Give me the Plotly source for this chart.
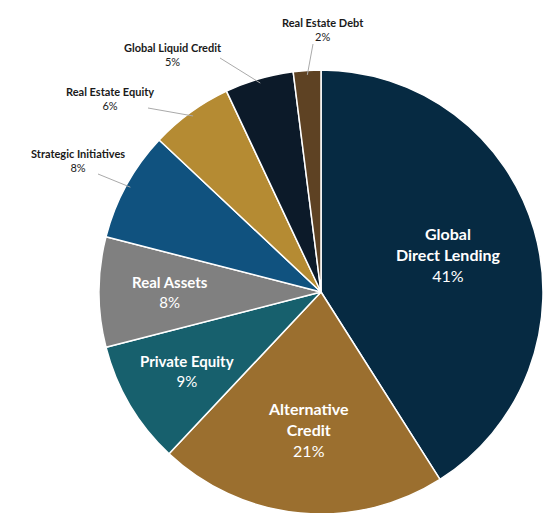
import plotly.graph_objects as go
import math

labels = ["Global Direct Lending", "Alternative Credit", "Private Equity", "Real Assets",
          "Strategic Initiatives", "Real Estate Equity", "Global Liquid Credit", "Real Estate Debt"]
display = ["Global<br>Direct Lending", "Alternative<br>Credit", "Private Equity", "Real Assets",
           "Strategic Initiatives", "Real Estate Equity", "Global Liquid Credit", "Real Estate Debt"]
values = [41, 21, 9, 8, 8, 6, 5, 2]
colors = ["#062a42", "#9b6f2f", "#17606d", "#808080", "#10527f", "#b58b33", "#0c1a29", "#5e4223"]

W, H = 551, 513
cx, cy, R = 313, 284, 222

fig = go.Figure(go.Pie(
    labels=labels, values=values, sort=False, direction="clockwise", rotation=0,
    marker=dict(colors=colors, line=dict(color="white", width=1.5)),
    textinfo="none", hoverinfo="label+percent", showlegend=False,
    domain=dict(x=[(cx - R) / W, (cx + R) / W], y=[(H - cy - R) / H, (H - cy + R) / H]),
))

def px2paper(x, y):
    return x / W, 1 - y / H

total = sum(values)
cum = 0
inside_r = [0.6, 0.62, 0.7, 0.68]
outside_pos = [(70, 152), (102, 91), (165, 46), (315, 21)]
line_end = [(90, 166), (140, 100), (212, 50), (305, 36)]
anns, shapes = [], []
for i, v in enumerate(values):
    mid = (cum + v / 2) / total * 2 * math.pi
    cum += v
    s, c = math.sin(mid), math.cos(mid)
    if i < 4:
        f = inside_r[i]
        x, y = px2paper(cx + R * f * s, cy - R * f * c)
        size = 16 if i < 2 else 15
        anns.append(dict(x=x, y=y, xref="paper", yref="paper", showarrow=False,
                         xanchor="center", yanchor="middle",
                         text=f"<b>{display[i]}</b><br>{v}%", align="center",
                         font=dict(family="Lato", size=size, color="white")))
    else:
        k = i - 4
        lx, ly = outside_pos[k]
        x, y = px2paper(lx, ly)
        anns.append(dict(x=x, y=y, xref="paper", yref="paper", showarrow=False,
                         xanchor="center", yanchor="middle",
                         text=f"<b>{display[i]}</b><br>{v}%", align="center",
                         font=dict(family="Lato", size=11, color="#1a1a1a")))
        ex, ey = cx + R * 0.98 * s, cy - R * 0.98 * c
        x0, y0 = px2paper(*line_end[k])
        x1, y1 = px2paper(ex, ey)
        shapes.append(dict(type="line", xref="paper", yref="paper", x0=x0, y0=y0, x1=x1, y1=y1,
                           line=dict(color="#aaaaaa", width=1)))

fig.update_layout(width=W, height=H, margin=dict(l=0, r=0, t=0, b=0),
                  paper_bgcolor="white", annotations=anns, shapes=shapes)
fig.write_html("out.html")
